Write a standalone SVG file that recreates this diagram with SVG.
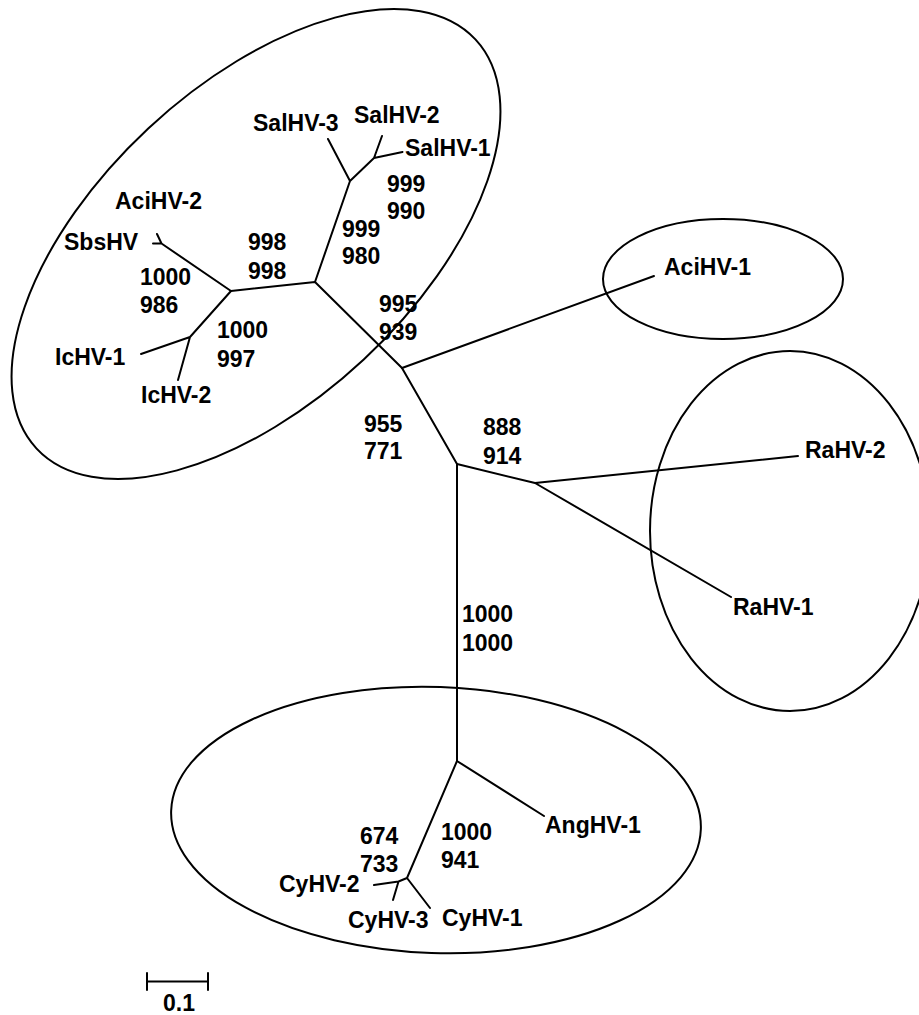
<svg xmlns="http://www.w3.org/2000/svg" width="919" height="1015" viewBox="0 0 919 1015">
<style>
.e{fill:none;stroke:#000;stroke-width:2}
.b{fill:none;stroke:#000;stroke-width:2;stroke-linecap:round;stroke-linejoin:round}
text{font-family:"Liberation Sans",Arial,sans-serif;font-weight:bold;font-size:23px;fill:#000}
</style>
<rect width="919" height="1015" fill="#fff"/>
<g id="clusters">
<ellipse id="cluster-upper" class="e" cx="256" cy="244" rx="300" ry="158" transform="rotate(-43 256 244)"/>
<ellipse id="cluster-acihv1" class="e" cx="723" cy="279" rx="120" ry="60"/>
<ellipse id="cluster-rahv" class="e" cx="790" cy="531" rx="140" ry="180"/>
<ellipse id="cluster-cyhv" class="e" cx="436" cy="820" rx="265" ry="133" transform="rotate(2 436 820)"/>
</g>
<g id="connectors">
<path class="b" d="M402,368 L315,282 L231,291 L161.5,243.5 L153,243.5 M161.5,243.5 L157,234"/>
<path class="b" d="M231,291 L190,337 L141,354 M190,337 L178,380"/>
<path class="b" d="M315,282 L350,181 L328,139 M350,181 L374,158 L382,136 M374,158 L402.5,152"/>
<path class="b" d="M402,368 L654,276"/>
<path class="b" d="M402,368 L457,464 L535,483 L798,456 M535,483 L731,597"/>
<path class="b" d="M457,464 L457,761 L544,816 M457,761 L407,878 L430,908 M407,878 L398.5,881.5 L374,885 M398.5,881.5 L393,900"/>
</g>
<g id="leaves">
<g id="n-salhv3"><text x="253" y="131">SalHV-3</text></g>
<g id="n-salhv2"><text x="354" y="123">SalHV-2</text></g>
<g id="n-salhv1"><text x="405" y="156">SalHV-1</text></g>
<g id="n-acihv2"><text x="115" y="209">AciHV-2</text></g>
<g id="n-sbshv"><text x="64" y="250">SbsHV</text></g>
<g id="n-ichv1"><text x="55" y="365">IcHV-1</text></g>
<g id="n-ichv2"><text x="141" y="403">IcHV-2</text></g>
<g id="n-acihv1"><text x="664" y="275">AciHV-1</text></g>
<g id="n-rahv2"><text x="805" y="458">RaHV-2</text></g>
<g id="n-rahv1"><text x="733" y="615">RaHV-1</text></g>
<g id="n-anghv1"><text x="545" y="833">AngHV-1</text></g>
<g id="n-cyhv2"><text x="279" y="892">CyHV-2</text></g>
<g id="n-cyhv3"><text x="348" y="928">CyHV-3</text></g>
<g id="n-cyhv1"><text x="442" y="926">CyHV-1</text></g>
</g>
<g id="support">
<text x="387" y="192">999</text><text x="387" y="219">990</text>
<text x="342" y="237">999</text><text x="342" y="264">980</text>
<text x="248" y="250">998</text><text x="248" y="279">998</text>
<text x="140" y="285">1000</text><text x="140" y="313">986</text>
<text x="217" y="338">1000</text><text x="217" y="367">997</text>
<text x="379" y="312">995</text><text x="379" y="340">939</text>
<text x="364" y="432">955</text><text x="364" y="459">771</text>
<text x="483" y="435">888</text><text x="483" y="464">914</text>
<text x="462" y="622">1000</text><text x="462" y="651">1000</text>
<text x="441" y="840">1000</text><text x="441" y="868">941</text>
<text x="360" y="844">674</text><text x="360" y="872">733</text>
</g>
<g id="scale">
<path class="b" d="M147,973 V990 M147,981.5 H208 M208,973 V990"/>
<text x="163" y="1011">0.1</text>
</g>
</svg>
